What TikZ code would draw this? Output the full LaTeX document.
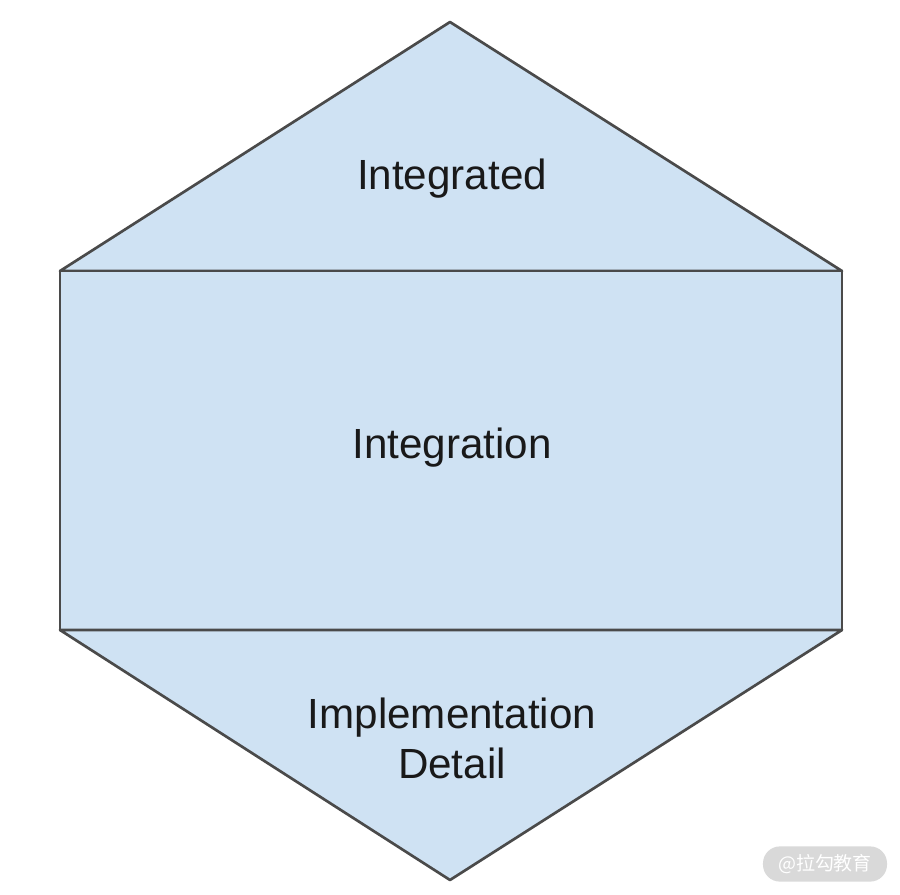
\documentclass[tikz,border=0pt]{standalone}
\usepackage{fontspec}
\setmainfont{Liberation Sans}
\newfontfamily\cjk{Noto Sans CJK SC}
\usetikzlibrary{positioning}

\definecolor{layerfill}{HTML}{CFE2F3}
\definecolor{layerline}{HTML}{4A4A4A}
\definecolor{markgrey}{HTML}{D9D9D9}

\begin{document}
\begin{tikzpicture}[x=0.025cm,y=-0.025cm,
    layer/.style={fill=layerfill,draw=layerline,line width=1.9pt,line join=round},
    label/.style={font=\fontsize{30}{35.5}\selectfont,text=black!90,align=center}]
\useasboundingbox (0,0) rectangle (900,894);
% define the corners of the hexagon
  \coordinate (top)  at (450,22);
  \coordinate (tl)   at (60,271);
  \coordinate (tr)   at (842,271);
  \coordinate (bl)   at (60,630);
  \coordinate (br)   at (842,630);
  \coordinate (bot)  at (450,880);

% define the three layers
  \draw[layer] (tl) -- (top) -- (tr) -- cycle;
  \draw[layer] (tl) rectangle (br);
  \draw[layer] (bl) -- (br) -- (bot) -- cycle;

% define the labels
  \node[label] (integrated)  at (452,179) {Integrated};
  \node[label] (integration) at (452,448) {Integration};
  \node[label] (detail)      at (452,738) {Implementation\\Detail};

% watermark
  \node[fill=markgrey,rounded corners=12pt,minimum width=3.1cm,
        minimum height=0.88cm,text=white,font=\cjk\fontsize{13.5}{15}\selectfont]
        (mark) at (825,864) {@拉勾教育};
\end{tikzpicture}
\end{document}
